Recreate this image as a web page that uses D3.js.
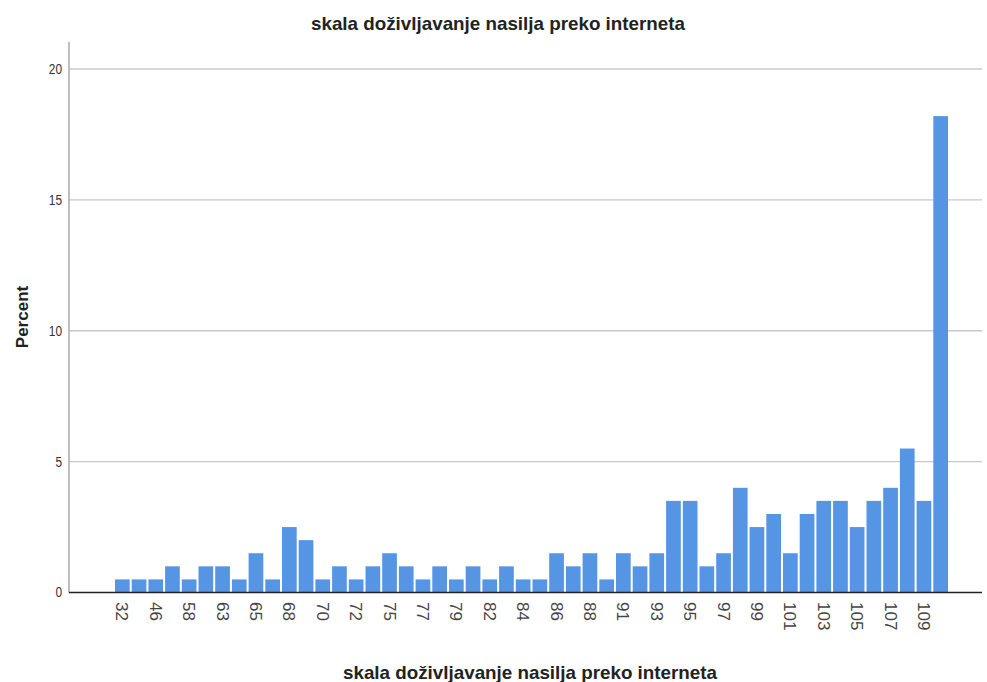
<!DOCTYPE html>
<html>
<head>
<meta charset="utf-8">
<script src="https://cdn.jsdelivr.net/npm/d3@7"></script>
<style>
  body { margin: 0; background: #fff; }
  svg { display: block; }
</style>
</head>
<body>
<svg id="chart" width="987" height="682"></svg>
<script>
// scores (every other one is labelled on the axis)
var categories = [32, 40, 46, 52, 58, 61, 63, 64, 65, 67,
                  68, 69, 70, 71, 72, 74, 75, 76, 77, 78,
                  79, 81, 82, 83, 84, 85, 86, 87, 88, 90,
                  91, 92, 93, 94, 95, 96, 97, 98, 99, 100,
                  101, 102, 103, 104, 105, 106, 107, 108, 109, 110];

var percents = [0.5, 0.5, 0.5, 1.0, 0.5, 1.0, 1.0, 0.5, 1.5, 0.5,
                2.5, 2.0, 0.5, 1.0, 0.5, 1.0, 1.5, 1.0, 0.5, 1.0,
                0.5, 1.0, 0.5, 1.0, 0.5, 0.5, 1.5, 1.0, 1.5, 0.5,
                1.5, 1.0, 1.5, 3.5, 3.5, 1.0, 1.5, 4.0, 2.5, 3.0,
                1.5, 3.0, 3.5, 3.5, 2.5, 3.5, 4.0, 5.5, 3.5, 18.2];

var tickLabels = [32, 46, 58, 63, 65, 68, 70, 72, 75, 77, 79, 82, 84,
                  86, 88, 91, 93, 95, 97, 99, 101, 103, 105, 107, 109];

var yTicks = [0, 5, 10, 15, 20];

var title = "skala doživljavanje nasilja preko interneta";

var svg = d3.select("#chart"),
    plotLeft = 69,
    plotRight = 982;

var x = d3.scaleBand()
    .domain(categories)
    .range([115, 948])
    .paddingInner(0.12)
    .paddingOuter(0.0);

var y = d3.scaleLinear()
    .domain([0, 20])
    .range([592.5, 69]);

// gridlines
svg.append("g")
    .selectAll("line")
    .data(yTicks.filter(function(d) { return d > 0; }))
    .enter().append("line")
    .attr("x1", plotLeft)
    .attr("x2", plotRight)
    .attr("y1", function(d) { return y(d); })
    .attr("y2", function(d) { return y(d); })
    .attr("stroke", "#c8c8c8")
    .attr("stroke-width", 1.3);

// y axis
var yAxis = svg.append("g")
    .attr("transform", "translate(" + plotLeft + ",0)")
    .call(d3.axisLeft(y).tickValues(yTicks).tickSize(0).tickPadding(7));
yAxis.select(".domain").remove();
yAxis.selectAll("text")
    .attr("font-family", "'Liberation Sans Narrow', 'Liberation Sans', Arial, sans-serif")
    .attr("font-size", 14)
    .attr("fill", "#333")
    .attr("transform", "scale(0.85,1)")
    .attr("x", -7 / 0.85);

svg.append("line")
    .attr("x1", plotLeft).attr("x2", plotLeft)
    .attr("y1", y(21.03)).attr("y2", y(0))
    .attr("stroke", "#a8a8a8")
    .attr("stroke-width", 1.5);

// bars
svg.append("g")
    .selectAll("rect")
    .data(categories)
    .enter().append("rect")
    .attr("x", function(d) { return x(d); })
    .attr("width", x.bandwidth())
    .attr("y", function(d, i) { return y(percents[i]); })
    .attr("height", function(d, i) { return y(0) - y(percents[i]); })
    .attr("fill", "#5595e3");

// baseline
svg.append("line")
    .attr("x1", plotLeft).attr("x2", plotRight)
    .attr("y1", y(0)).attr("y2", y(0))
    .attr("stroke", "#222")
    .attr("stroke-width", 1.3);

// x tick labels, rotated
svg.append("g")
    .selectAll("text")
    .data(tickLabels)
    .enter().append("text")
    .attr("transform", function(d) {
        return "translate(" + (x(d) + x.bandwidth() / 2) + ",602) rotate(90)";
    })
    .attr("dy", "0.35em")
    .attr("font-family", "'Liberation Sans', Arial, sans-serif")
    .attr("font-size", 17)
    .attr("fill", "#444")
    .text(function(d) { return d; });

// titles (condensed look like the original)
function condensedTitle(cx, baseline, label) {
    svg.append("text")
        .attr("x", cx)
        .attr("y", baseline)
        .attr("text-anchor", "middle")
        .attr("font-family", "'Liberation Sans Narrow', 'Liberation Sans', Arial, sans-serif")
        .attr("font-weight", "bold")
        .attr("font-size", 19)
        .attr("fill", "#222")
        .attr("textLength", 374)
        .attr("lengthAdjust", "spacingAndGlyphs")
        .text(label);
}
condensedTitle(498, 30, title);
condensedTitle(530, 679, title);

svg.append("text")
    .attr("transform", "translate(28,317) rotate(-90)")
    .attr("text-anchor", "middle")
    .attr("font-family", "'Liberation Sans', Arial, sans-serif")
    .attr("font-weight", "bold")
    .attr("font-size", 17)
    .attr("fill", "#222")
    .text("Percent");
</script>
</body>
</html>
